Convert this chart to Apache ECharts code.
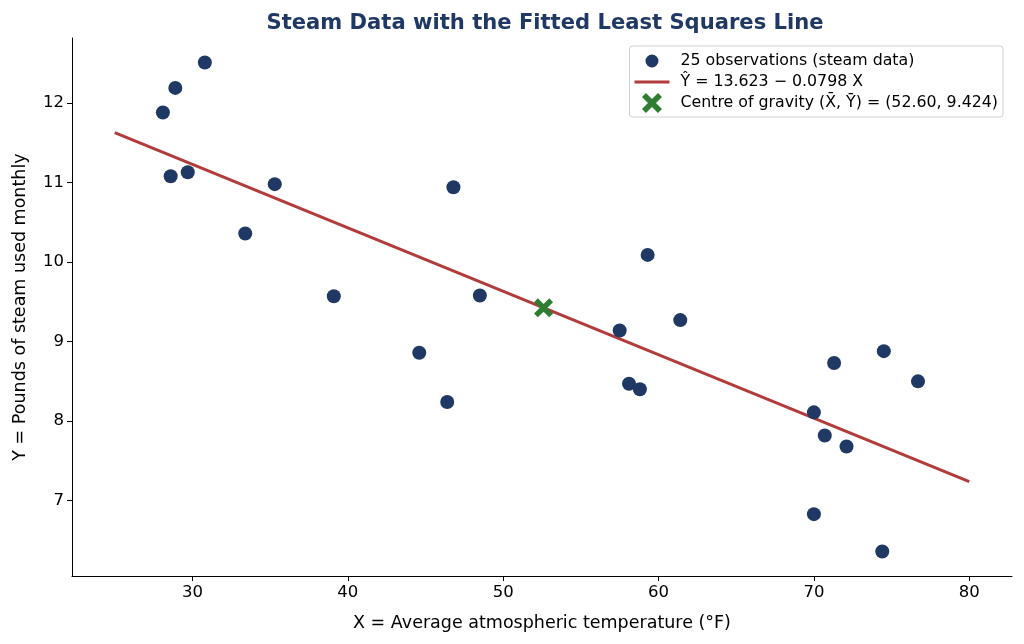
<!DOCTYPE html>
<html>
<head>
<meta charset="utf-8">
<script src="https://cdn.jsdelivr.net/npm/echarts@6/dist/echarts.min.js"></script>
<style>
  html, body { margin: 0; padding: 0; background: #fff; }
  #chart { width: 1024px; height: 644px; }
</style>
</head>
<body>
<div id="chart"></div>
<script>
// steam data, 25 monthly observations
const tempF = [35.3, 29.7, 30.8, 58.8, 61.4, 71.3, 74.4, 76.7, 70.7, 57.5, 46.4, 28.9, 28.1,
               39.1, 46.8, 48.5, 59.3, 70.0, 70.0, 74.5, 72.1, 58.1, 44.6, 33.4, 28.6];
const steamLbs = [10.98, 11.13, 12.51, 8.40, 9.27, 8.73, 6.36, 8.50, 7.82, 9.14, 8.24, 12.19, 11.88,
                  9.57, 10.94, 9.58, 10.09, 8.11, 6.83, 8.88, 7.68, 8.47, 8.86, 10.36, 11.08];
// fitted least squares line ends
const lineX = [25, 80];
const lineY = [11.628, 7.239];
// centre of gravity
const centreX = 52.60;
const centreY = 9.424;
const xTicks = [30, 40, 50, 60, 70, 80];
const yTicks = [7, 8, 9, 10, 11, 12];

const crossPath = 'path://M0,4L4,0L10,6L16,0L20,4L14,10L20,16L16,20L10,14L4,20L0,16L6,10Z';
// small dot inside a 20x20 box so the legend row keeps the same height
const dotPath = 'path://M0,0M20,20M10,3.5A6.5,6.5,0,1,1,9.99,3.5Z';
const FONT = 'DejaVu Sans';

let chart = echarts.init(document.getElementById('chart'));
let option = {
    animation: false,
    textStyle: { fontFamily: FONT },
    title: {
        text: 'Steam Data with the Fitted Least Squares Line',
        left: 540,
        top: 8,
        textAlign: 'center',
        textStyle: { fontFamily: FONT, fontSize: 21.1, fontWeight: 'bold', color: '#1f3864' }
    },
    grid: { left: 72, right: 12, top: 38, bottom: 68 },
    legend: {
        orient: 'vertical',
        right: 21,
        top: 46,
        padding: [5, 5, 4, 5],
        itemGap: 3,
        itemWidth: 35,
        itemHeight: 20,
        borderColor: '#d0d0d0',
        borderWidth: 1,
        borderRadius: 3,
        backgroundColor: 'rgba(255,255,255,0.8)',
        textStyle: { fontFamily: FONT, fontSize: 15.8, color: '#000', padding: [0, 0, 0, 6] },
        data: [
            { name: '25 observations (steam data)', icon: dotPath },
            { name: 'Ŷ = 13.623 − 0.0798 X', icon: 'path://M0,0H35V3H0Z' },
            { name: 'Centre of gravity (X̄, Ȳ) = (52.60, 9.424)', icon: crossPath }
        ]
    },
    xAxis: {
        type: 'value',
        min: 22.25,
        max: 82.75,
        name: 'X = Average atmospheric temperature (°F)',
        nameLocation: 'middle',
        nameGap: 38,
        nameTextStyle: { fontFamily: FONT, fontSize: 17.5, color: '#000' },
        splitLine: { show: false },
        axisLine: { lineStyle: { color: '#000', width: 1 } },
        axisTick: { show: true, length: 5, customValues: xTicks, lineStyle: { color: '#000' } },
        axisLabel: { customValues: xTicks, fontSize: 16.5, color: '#000', margin: 8 }
    },
    yAxis: {
        type: 'value',
        min: 6.0525,
        max: 12.8175,
        name: 'Y = Pounds of steam used monthly',
        nameLocation: 'middle',
        nameGap: 43,
        nameTextStyle: { fontFamily: FONT, fontSize: 17.5, color: '#000' },
        splitLine: { show: false },
        axisLine: { show: true, lineStyle: { color: '#000', width: 1 } },
        axisTick: { show: true, length: 5, customValues: yTicks, lineStyle: { color: '#000' } },
        axisLabel: { customValues: yTicks, fontSize: 16.5, color: '#000', margin: 8 }
    },
    series: [
        {
            name: '25 observations (steam data)',
            type: 'scatter',
            symbol: 'circle',
            symbolSize: 14,
            itemStyle: { color: '#1f3864', opacity: 1 },
            z: 3,
            data: tempF.map(function (x, i) { return [x, steamLbs[i]]; })
        },
        {
            name: 'Ŷ = 13.623 − 0.0798 X',
            type: 'line',
            symbol: 'none',
            lineStyle: { color: '#b23b3b', width: 3 },
            itemStyle: { color: '#b23b3b' },
            z: 2,
            data: lineX.map(function (x, i) { return [x, lineY[i]]; })
        },
        {
            name: 'Centre of gravity (X̄, Ȳ) = (52.60, 9.424)',
            type: 'scatter',
            symbol: crossPath,
            symbolSize: 19,
            itemStyle: { color: '#2e7d32', opacity: 1 },
            z: 4,
            data: [[centreX, centreY]]
        }
    ]
};
chart.setOption(option);
</script>
</body>
</html>
